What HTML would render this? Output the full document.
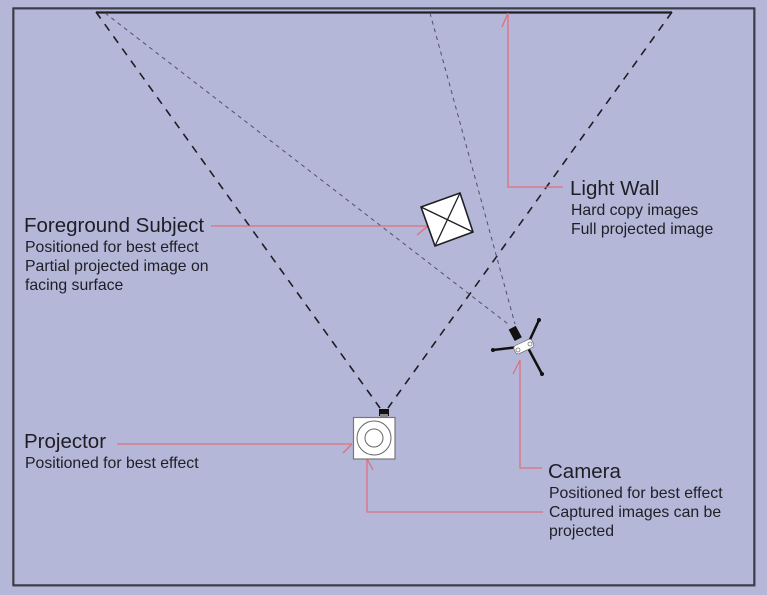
<!DOCTYPE html>
<html><head><meta charset="utf-8"><style>
html,body{margin:0;padding:0;background:#b5b7d9;}
svg{display:block;}
text{font-family:"Liberation Sans",Arial,sans-serif;fill:#1e1e24;}
.t{font-size:20.5px;}
.s{font-size:15.8px;}
</style></head><body>
<svg width="767" height="595" viewBox="0 0 767 595" xmlns="http://www.w3.org/2000/svg">
<rect x="0" y="0" width="767" height="595" fill="#b5b7d9"/>
<rect x="13.5" y="8.5" width="741" height="577" fill="none" stroke="#5a5a6a" stroke-width="2.2"/>
<rect x="13" y="8" width="741" height="577" fill="none" stroke="#2a2a33" stroke-width="1.2"/>
<!-- wall -->
<line x1="96" y1="12.5" x2="672" y2="12.5" stroke="#1e1e24" stroke-width="2.2"/>
<!-- projector beams -->
<line x1="96" y1="12" x2="380" y2="408" stroke="#1e1e24" stroke-width="1.6" stroke-dasharray="8,7"/>
<line x1="672" y1="12" x2="388" y2="408" stroke="#1e1e24" stroke-width="1.6" stroke-dasharray="8,7"/>
<!-- camera field -->
<line x1="105" y1="13" x2="508" y2="324" stroke="#50506a" stroke-width="1" stroke-dasharray="4,4"/>
<line x1="430" y1="13" x2="515" y2="324" stroke="#50506a" stroke-width="1" stroke-dasharray="4,4"/>
<!-- red pointers -->
<g stroke="#e0707c" stroke-width="1.3" fill="none">
<polyline points="563,187 508,187 508,13"/>
<line x1="508" y1="13" x2="502" y2="27"/>
<line x1="211" y1="226" x2="428" y2="226"/>
<line x1="428" y1="226" x2="417" y2="235"/>
<line x1="117" y1="444" x2="352" y2="444"/>
<line x1="352" y1="444" x2="343" y2="453"/>
<polyline points="542,468 520,468 520,360"/>
<line x1="520" y1="360" x2="513" y2="374"/>
<polyline points="543,512 367,512 367,459"/>
<line x1="367" y1="459" x2="373" y2="470"/>
</g>
<!-- foreground subject -->
<polygon points="421,207 460,193 473,232 435,246" fill="#fff" stroke="#1e1e24" stroke-width="1.6"/>
<line x1="421" y1="207" x2="473" y2="232" stroke="#1e1e24" stroke-width="1.3"/>
<line x1="460" y1="193" x2="435" y2="246" stroke="#1e1e24" stroke-width="1.3"/>
<!-- projector -->
<rect x="379" y="409" width="10" height="7" fill="#111"/>
<rect x="380" y="414" width="8" height="3" fill="#888"/>
<rect x="353.5" y="417.5" width="41.5" height="41.5" fill="#fff" stroke="#777" stroke-width="1.2"/>
<circle cx="374" cy="438" r="17" fill="none" stroke="#666" stroke-width="1"/>
<circle cx="374" cy="438" r="9" fill="none" stroke="#666" stroke-width="1"/>
<!-- camera -->
<g stroke="#111" stroke-width="2.5" stroke-linecap="round">
<line x1="527" y1="346" x2="493" y2="350"/>
<line x1="527" y1="346" x2="539" y2="320"/>
<line x1="527" y1="346" x2="542" y2="374"/>
</g>
<circle cx="493" cy="350" r="2" fill="#111"/>
<circle cx="539" cy="320" r="2" fill="#111"/>
<circle cx="542" cy="374" r="2" fill="#111"/>
<rect x="511" y="327" width="8" height="13" fill="#111" transform="rotate(-28 515 333)"/>
<rect x="514" y="342" width="20" height="9" rx="3" fill="#fff" stroke="#777" stroke-width="0.8" transform="rotate(-25 524 347)"/>
<circle cx="518" cy="350" r="2" fill="none" stroke="#777" stroke-width="0.8"/>
<circle cx="530" cy="344" r="2" fill="none" stroke="#777" stroke-width="0.8"/>
<!-- labels -->
<text class="t" x="570" y="195">Light Wall</text>
<text class="s" x="571" y="215">Hard copy images</text>
<text class="s" x="571" y="234">Full projected image</text>

<text class="t" x="24" y="232">Foreground Subject</text>
<text class="s" x="25" y="252">Positioned for best effect</text>
<text class="s" x="25" y="271">Partial projected image on</text>
<text class="s" x="25" y="290">facing surface</text>

<text class="t" x="24" y="448">Projector</text>
<text class="s" x="25" y="468">Positioned for best effect</text>

<text class="t" x="548" y="478">Camera</text>
<text class="s" x="549" y="498">Positioned for best effect</text>
<text class="s" x="549" y="517">Captured images can be</text>
<text class="s" x="549" y="536">projected</text>
</svg>
</body></html>
